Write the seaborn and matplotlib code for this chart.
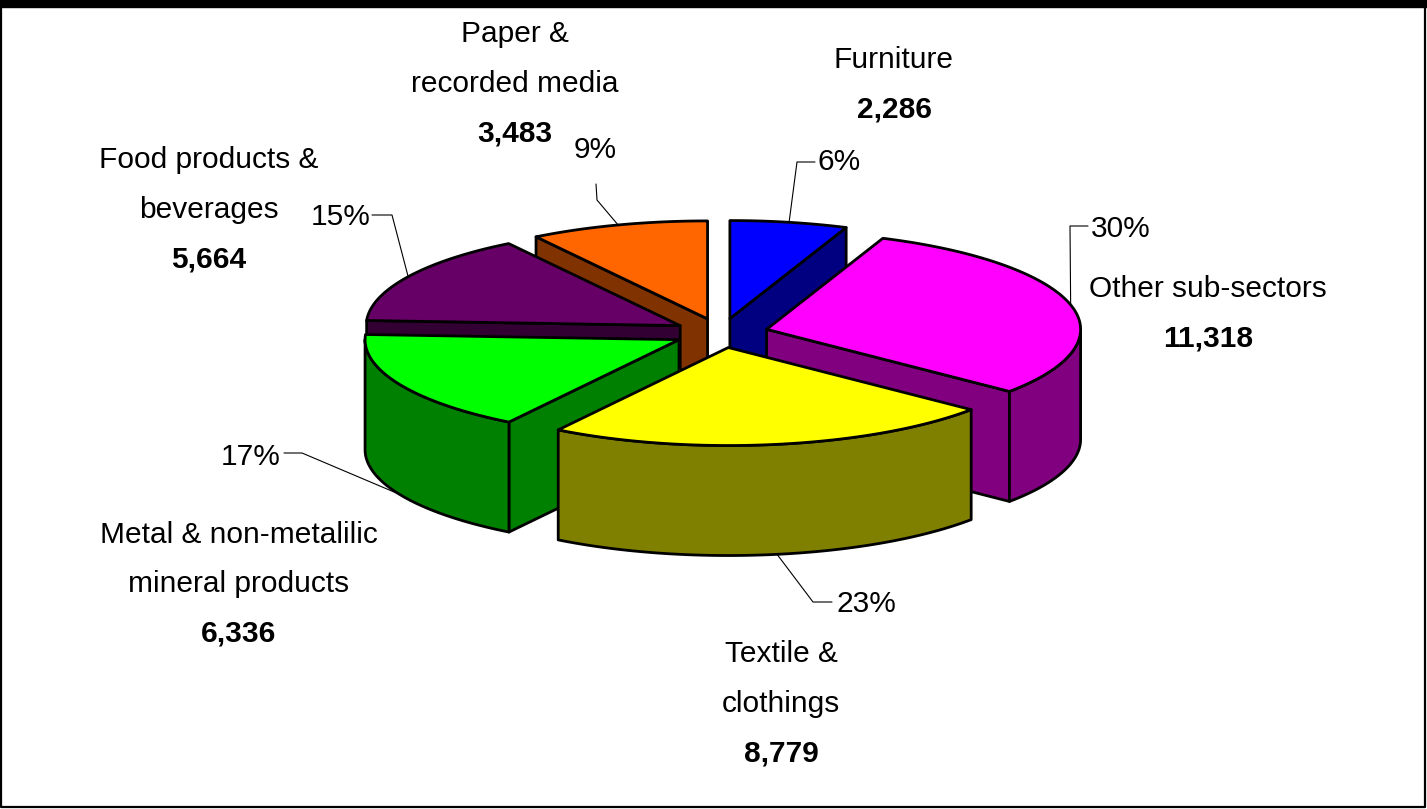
import numpy as np
import matplotlib
matplotlib.use("Agg")
import matplotlib.pyplot as plt
from matplotlib import font_manager
from matplotlib.patches import Polygon, Rectangle
import seaborn as sns

# ---- data -------------------------------------------------------------
sectors = ["Furniture", "Other sub-sectors", "Textile &\nclothings",
           "Metal & non-metalilic\nmineral products", "Food products &\nbeverages",
           "Paper &\nrecorded media"]
employment = [2286, 11318, 8779, 6336, 5664, 3483]
top_colors = ["#0000FF", "#FF00FF", "#FFFF00", "#00FF00", "#660066", "#FF6600"]
side_colors = ["#000080", "#800080", "#808000", "#008000", "#330033", "#803300"]

# ---- label layout (pixel coordinates: name-block centre x, first baseline) ----
name_pos = [(894, 68), (1208, 297), (781, 662), (239, 543), (209, 168), (515, 42)]
pct_pos = [(839, 170), (1121, 237), (866, 612), (251, 465), (341, 225), (595, 158)]
# leader path from the label to an elbow; the final point lies on the slice
leader_start = [(815, 162), (1088, 226), (832, 602), (284, 453), (372, 215), (596, 184)]
leader_elbow = [(797, 162), (1070, 226), (813, 602), (302, 453), (392, 215), (597, 200)]

W, H = 1427, 809
sns.set_style("white")
names = {f.name for f in font_manager.fontManager.ttflist}
if "Liberation Sans Narrow" in names:
    family, fs = "Liberation Sans Narrow", 25
else:
    family, fs = "Liberation Sans", 21.5
plt.rcParams["font.family"] = [family, "DejaVu Sans"]

fig = plt.figure(figsize=(W / 100, H / 100), dpi=100)
ax = fig.add_axes([0, 0, 1, 1])
ax.set_xlim(0, W)
ax.set_ylim(H, 0)
ax.axis("off")

# frame
ax.add_patch(Rectangle((0, 0), W, 7, color="black", zorder=1))
ax.plot([1, 1, 1425, 1425], [0, 807, 807, 0], color="black", lw=1.6, zorder=1)

# ---- 3-D exploded pie --------------------------------------------------
cx, cy = 721, 333      # centre of the top ellipse
rx, ry = 314, 98       # ellipse radii
depth = 110            # thickness of the pie
explode = 0.15         # radial offset of every slice (fraction of radius)

palette_top = sns.color_palette(top_colors)
palette_side = sns.color_palette(side_colors)

total = float(sum(employment))
fracs = np.array(employment) / total
bounds = np.concatenate([[0], np.cumsum(fracs)]) * 2 * np.pi  # clockwise from 12 o'clock

edge_kw = dict(edgecolor="black", linewidth=2.0, joinstyle="round")

slices = []
for i in range(len(employment)):
    t0, t1 = bounds[i], bounds[i + 1]
    mid = 0.5 * (t0 + t1)
    ax0 = cx + rx * explode * np.sin(mid)
    ay0 = cy - ry * explode * np.cos(mid)
    slices.append((i, t0, t1, mid, ax0, ay0))


def pt(axc, ayc, t, z=0.0):
    return axc + rx * np.sin(t), ayc - ry * np.cos(t) + z


# paint from back (top of screen) to front
order = sorted(slices, key=lambda s: -np.cos(s[3]))
z = 2
for i, t0, t1, mid, a_x, a_y in order:
    # radial side faces that turn toward the viewer
    for t, visible in ((t0, np.sin(t0) < -1e-6), (t1, np.sin(t1) > 1e-6)):
        if visible:
            px, py = pt(a_x, a_y, t)
            poly = [(a_x, a_y), (px, py), (px, py + depth), (a_x, a_y + depth)]
            ax.add_patch(Polygon(poly, closed=True, facecolor=palette_side[i], zorder=z, **edge_kw))
    # outer curved wall (front half only)
    lo, hi = max(t0, np.pi / 2), min(t1, 3 * np.pi / 2)
    if hi > lo:
        ts = np.linspace(lo, hi, 80)
        xs, ys = pt(a_x, a_y, ts)
        poly = np.column_stack([np.concatenate([xs, xs[::-1]]),
                                np.concatenate([ys, (ys + depth)[::-1]])])
        ax.add_patch(Polygon(poly, closed=True, facecolor=palette_side[i], zorder=z, **edge_kw))
    # top face
    ts = np.linspace(t0, t1, 120)
    xs, ys = pt(a_x, a_y, ts)
    poly = np.column_stack([np.concatenate([[a_x], xs]), np.concatenate([[a_y], ys])])
    ax.add_patch(Polygon(poly, closed=True, facecolor=palette_top[i], zorder=z, **edge_kw))
    z += 1

# ---- labels --------------------------------------------------------------
line_step = 49.5
for i, t0, t1, mid, a_x, a_y in slices:
    nx, ny = name_pos[i]
    lines = sectors[i].split("\n")
    for k, line in enumerate(lines):
        ax.text(nx, ny + k * line_step, line, ha="center", va="baseline",
                fontsize=fs, color="black", zorder=20)
    ax.text(nx, ny + len(lines) * line_step, f"{employment[i]:,}", ha="center",
            va="baseline", fontsize=fs, fontweight="bold", color="black", zorder=20)

    px, py = pct_pos[i]
    ax.text(px, py, f"{fracs[i] * 100:.0f}%", ha="center", va="baseline",
            fontsize=fs, color="black", zorder=20)

    # leader line: ends on the outer rim at the slice's mid angle
    ex, ey = pt(a_x, a_y, mid, depth if np.cos(mid) < 0 else 0.0)
    sx, sy = leader_start[i]
    bx, by = leader_elbow[i]
    ax.plot([sx, bx, ex], [sy, by, ey], color="black", lw=0.8, zorder=19)

fig.savefig("out.png", dpi=100, facecolor="white")
